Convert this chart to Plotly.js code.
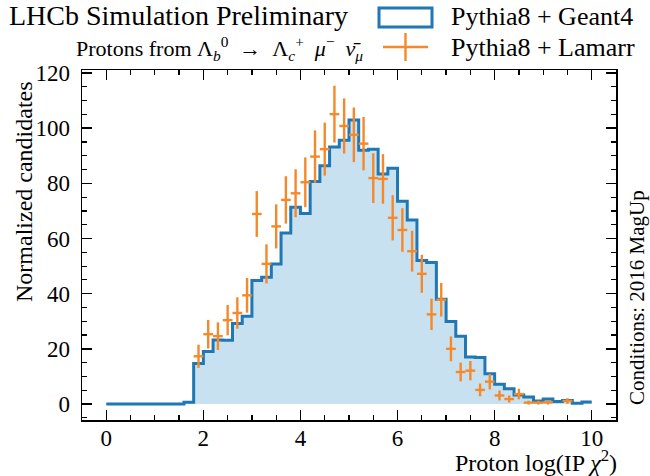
<!DOCTYPE html>
<html>
<head>
<meta charset="utf-8">
<script src="https://cdn.plot.ly/plotly-3.0.1.min.js"></script>
<style>
  html, body { margin: 0; padding: 0; background: #ffffff; }
  #chart { width: 650px; height: 476px; }
</style>
</head>
<body>
<div id="chart"></div>
<script>
// Histogram binning for the proton log(IP chi2) distribution
const binLow = 0;
const binWidth = 0.2;

// Pythia8 + Geant4: normalized candidates per bin (50 bins, 0 to 10)
const geantCounts = [
  0, 0, 0, 0, 0, 0, 0, 0, 0.6, 14.7,
  19.0, 23.2, 23.1, 29.2, 31.8, 44.8, 46.0, 50.8, 62.0, 71.3,
  69.1, 80.7, 86.4, 93.2, 95.6, 103.0, 92.0, 92.4, 83.4, 85.5,
  73.5, 66.7, 52.0, 51.3, 38.0, 29.9, 24.6, 17.0, 16.9, 11.0,
  7.2, 5.5, 3.3, 2.5, 1.1, 1.8, 0.9, 1.3, 0.3, 0.7
];

// Pythia8 + Lamarr: bin centres, values and vertical uncertainties
const lamarrCenters = [
  1.9, 2.1, 2.3, 2.5, 2.7, 2.9, 3.1, 3.3, 3.5, 3.7,
  3.9, 4.1, 4.3, 4.5, 4.7, 4.9, 5.1, 5.3, 5.5, 5.7,
  5.9, 6.1, 6.3, 6.5, 6.7, 6.9, 7.1, 7.3, 7.5, 7.7,
  7.9, 8.1, 8.3, 8.5, 8.7, 8.9, 9.1, 9.5
];
const lamarrValues = [
  17.3, 25.3, 24.6, 30.4, 33.0, 39.4, 68.9, 50.8, 64.4, 74.0,
  76.4, 80.4, 89.7, 92.4, 105.1, 100.8, 97.6, 94.4, 81.9, 81.6,
  67.5, 63.1, 55.4, 47.2, 32.5, 37.8, 20.0, 11.6, 12.1, 5.1,
  8.1, 3.1, 1.8, 3.6, 0.5, 0.5, 0.6, 1.1
];
const lamarrErrors = [
  4.2, 5.2, 5.0, 5.5, 5.7, 6.3, 8.3, 7.1, 8.0, 8.6,
  8.7, 9.0, 9.5, 9.6, 10.3, 10.0, 9.9, 9.7, 9.0, 9.0,
  8.2, 7.9, 7.4, 6.9, 5.7, 6.1, 4.5, 3.4, 3.5, 2.3,
  2.8, 1.8, 1.3, 1.9, 0.7, 0.7, 0.8, 1.0
];

const xTickVals = [0, 2, 4, 6, 8, 10];
const yTickVals = [0, 20, 40, 60, 80, 100, 120];

const blue = '#1f77b4';
const orange = '#f5892a';
const serif = 'Liberation Serif';

// Step outline: left edge of every bin, plus the closing right edge
const stepX = geantCounts.map((_, i) => binLow + i * binWidth);
stepX.push(binLow + geantCounts.length * binWidth);
const stepY = geantCounts.concat([geantCounts[geantCounts.length - 1]]);

const geantTrace = {
  type: 'scatter',
  mode: 'lines',
  x: stepX,
  y: stepY,
  line: { shape: 'hv', color: blue, width: 3 },
  fill: 'tozeroy',
  fillcolor: '#c7e1f1',
  hoverinfo: 'skip',
  showlegend: false
};

const lamarrTrace = {
  type: 'scatter',
  mode: 'markers',
  x: lamarrCenters,
  y: lamarrValues,
  marker: { size: 1, color: 'rgba(0,0,0,0)' },
  error_x: { type: 'constant', value: binWidth / 2, color: orange, thickness: 2.4, width: 0 },
  error_y: { type: 'data', array: lamarrErrors, visible: true, color: orange, thickness: 2.4, width: 0 },
  showlegend: false
};

// pixel helpers for the decorations around the frame
const L = 82, R = 34, T = 70, B = 56, W = 650, H = 476;
const pw = W - L - R, ph = H - T - B;
const px = v => (v - L) / pw;
const py = v => (H - B - v) / ph;

const axisCommon = {
  showline: true,
  linecolor: '#000000',
  linewidth: 1.5,
  mirror: 'allticks',
  ticks: 'inside',
  ticklen: 10,
  tickwidth: 1.5,
  tickcolor: '#000000',
  showgrid: false,
  zeroline: false,
  tickfont: { family: serif, size: 23, color: '#000000' }
};

const layout = {
  width: W,
  height: H,
  font: { family: serif, color: '#000000' },
  margin: { l: L, r: R, t: T, b: B, pad: 0 },
  paper_bgcolor: '#ffffff',
  plot_bgcolor: '#ffffff',
  showlegend: false,
  xaxis: Object.assign({}, axisCommon, {
    range: [-0.5, 10.5],
    tickmode: 'array',
    tickvals: xTickVals,
    ticktext: xTickVals.map(String),
    ticklabelstandoff: -3,
    minor: { dtick: 0.5, tick0: 0, ticks: 'inside', ticklen: 5, tickwidth: 1.2, tickcolor: '#000000' }
  }),
  yaxis: Object.assign({}, axisCommon, {
    range: [-5.8, 121.1],
    tickmode: 'array',
    tickvals: yTickVals,
    ticktext: yTickVals.map(String),
    ticklabelstandoff: 6,
    minor: { dtick: 5, tick0: 0, ticks: 'inside', ticklen: 5, tickwidth: 1.2, tickcolor: '#000000' }
  }),
  shapes: [
    // legend key: open box for the simulated histogram
    { type: 'rect', xref: 'paper', yref: 'paper',
      x0: px(379), x1: px(432), y0: py(27), y1: py(8),
      line: { color: blue, width: 3 }, fillcolor: '#ffffff' },
    // legend key: cross for the fast-simulation points
    { type: 'line', xref: 'paper', yref: 'paper',
      x0: px(383), x1: px(428), y0: py(47), y1: py(47),
      line: { color: orange, width: 2.4 } },
    { type: 'line', xref: 'paper', yref: 'paper',
      x0: px(405.5), x1: px(405.5), y0: py(61), y1: py(33),
      line: { color: orange, width: 2.4 } }
  ],
  annotations: [
    { text: 'LHCb Simulation Preliminary', xref: 'paper', yref: 'paper',
      x: px(7), y: py(16), xanchor: 'left', yanchor: 'middle', showarrow: false,
      font: { family: serif, size: 28, color: '#000000' } },
    { text: 'Protons from Λ<sub><i>b</i></sub><sup>0</sup>\u2002→\u2002Λ<sub><i>c</i></sub><sup>+</sup>\u2002<i>μ</i><sup>−</sup>\u2002<i>ν̄</i><sub><i>μ</i></sub>',
      xref: 'paper', yref: 'paper',
      x: px(74), y: py(49), xanchor: 'left', yanchor: 'middle', showarrow: false,
      font: { family: serif, size: 22, color: '#000000' } },
    { text: 'Pythia8 + Geant4', xref: 'paper', yref: 'paper',
      x: px(449), y: py(17), xanchor: 'left', yanchor: 'middle', showarrow: false,
      font: { family: serif, size: 26, color: '#000000' } },
    { text: 'Pythia8 + Lamarr', xref: 'paper', yref: 'paper',
      x: px(449), y: py(47), xanchor: 'left', yanchor: 'middle', showarrow: false,
      font: { family: serif, size: 26, color: '#000000' } },
    { text: 'Proton log(IP <i>χ</i><sup>2</sup>)', xref: 'paper', yref: 'paper',
      x: px(619), y: py(461), xanchor: 'right', yanchor: 'middle', showarrow: false,
      font: { family: serif, size: 24, color: '#000000' } },
    { text: 'Normalized candidates', xref: 'paper', yref: 'paper',
      x: px(24), y: py(192), xanchor: 'center', yanchor: 'middle', showarrow: false,
      textangle: -90,
      font: { family: serif, size: 24, color: '#000000' } },
    { text: 'Conditions: 2016 MagUp', xref: 'paper', yref: 'paper',
      x: px(637), y: py(298), xanchor: 'center', yanchor: 'middle', showarrow: false,
      textangle: -90,
      font: { family: serif, size: 21, color: '#000000' } }
  ]
};

Plotly.newPlot('chart', [geantTrace, lamarrTrace], layout, { staticPlot: true, displayModeBar: false });
</script>
</body>
</html>
